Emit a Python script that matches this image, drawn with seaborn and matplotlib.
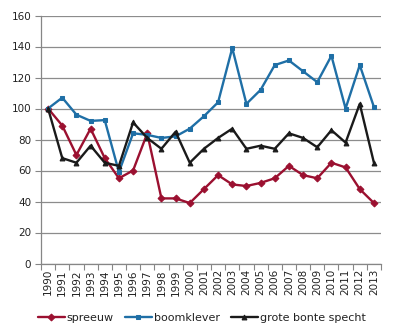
import matplotlib
matplotlib.use("Agg")
import matplotlib.pyplot as plt
import seaborn as sns
import pandas as pd

years = [str(y) for y in range(1990, 2014)]
spreeuw = [100, 89, 70, 87, 68, 55, 60, 84, 42, 42, 39, 48, 57, 51, 50, 52,
           55, 63, 57, 55, 65, 62, 48, 39]
boomklever = [100, 107, 96, 92, 92.5, 59, 84, 83, 81, 82, 87, 95, 104, 139,
              103, 112, 128, 131, 124, 117, 134, 100, 128, 101]
grote_bonte_specht = [100, 68, 65, 76, 65, 63, 91, 81, 74, 85, 65, 74, 81, 87,
                      74, 76, 74, 84, 81, 75, 86, 78, 103, 65]

series = ["spreeuw", "boomklever", "grote bonte specht"]
colors = ["#9b1030", "#1f6fa6", "#1a1a1a"]
markers = ["D", "s", "^"]
msizes = [5.2, 7.2, 6.2]

df = pd.DataFrame({
    "jaar": years * 3,
    "x": list(range(len(years))) * 3,
    "waarde": spreeuw + boomklever + grote_bonte_specht,
    "soort": [s for s in series for _ in years],
})

sns.set_theme(style="white")
plt.rcParams["font.family"] = ["DejaVu Sans"]

fig = plt.figure(figsize=(3.96, 3.36), dpi=100)
ax = fig.add_axes([41 / 396, 1 - 263.5 / 336, 340 / 396, 248 / 336])

for s, c, m, ms in zip(series, colors, markers, msizes):
    sub = df[df["soort"] == s]
    sns.lineplot(data=sub, x="x", y="waarde", ax=ax, color=c, marker=m,
                 markersize=ms, markeredgecolor=c, linewidth=1.7, label=s,
                 zorder=3)

ax.set_xlim(-0.5, len(years) - 0.5)
ax.set_ylim(0, 160)
ax.set_yticks(range(0, 161, 20))
ax.set_xticks(range(len(years)))
ax.set_xticklabels(years, rotation=90, fontsize=7.5, color="#222222")
ax.set_xticks([i - 0.5 for i in range(len(years) + 1)], minor=True)
ax.tick_params(axis="x", which="major", length=0, pad=4)
ax.tick_params(axis="x", which="minor", length=4, width=0.8, color="#868686",
               bottom=True)
ax.tick_params(axis="y", length=4, width=0.8, color="#868686", left=True,
               labelsize=7.5, labelcolor="#222222", pad=3)
ax.set_xlabel("")
ax.set_ylabel("")

ax.grid(axis="y", color="#8c8c8c", linewidth=0.9)
ax.grid(axis="x", visible=False)
ax.set_axisbelow(True)
for side in ["top", "right"]:
    ax.spines[side].set_visible(False)
for side in ["left", "bottom"]:
    ax.spines[side].set_color("#868686")
    ax.spines[side].set_linewidth(0.9)

handles, labels = ax.get_legend_handles_labels()
ax.get_legend().remove()
for h in handles:
    h.set_markersize(3.5)
fig.legend(handles, labels, loc="center", bbox_to_anchor=(0.51, 1 - 318 / 336),
           ncol=3, frameon=False, fontsize=8, handlelength=2.4,
           handletextpad=0.2, columnspacing=1.0, labelcolor="#222222")

fig.savefig("out.png", dpi=100)
